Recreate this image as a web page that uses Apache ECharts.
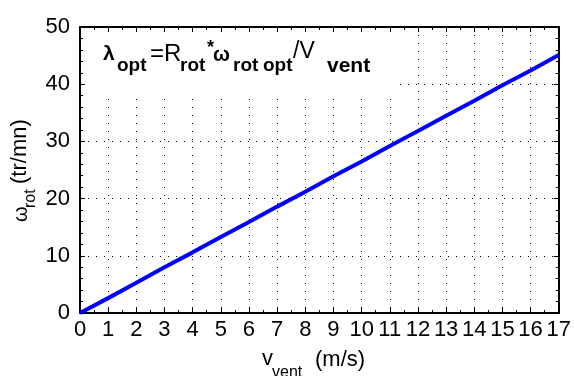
<!DOCTYPE html>
<html>
<head>
<meta charset="utf-8">
<script src="https://cdn.jsdelivr.net/npm/echarts@6/dist/echarts.min.js"></script>
<style>
html,body{margin:0;padding:0;background:#fff;}
#c{width:574px;height:376px;}
</style>
</head>
<body>
<div id="c"></div>
<script>
// Data
const vVent = [0, 1, 2, 3, 4, 5, 6, 7, 8, 9, 10, 11, 12, 13, 14, 15, 16, 17];
const omegaRot = [0, 2.6, 5.3, 8.0, 10.6, 13.3, 15.9, 18.6, 21.2, 23.9, 26.5, 29.2, 31.8, 34.5, 37.1, 39.8, 42.4, 45.1];
const xRange = [0, 17];
const yRange = [0, 50];
const xStep = 1;
const yStep = 10;

const FONT = '"Liberation Sans", Arial, sans-serif';
const chart = echarts.init(document.getElementById('c'), null, {renderer: 'canvas'});

const dotted = {color: '#000', width: 1, type: [1, 7]};
const axisLine = {show: true, onZero: false, lineStyle: {color: '#000', width: 2}};

function txt(text, x, y, size, weight, align) {
  return {
    type: 'text', x: x, y: y, z: 10,
    style: {
      text: text, fill: '#000',
      font: (weight || 'normal') + ' ' + size + 'px ' + FONT,
      textAlign: align || 'left', textVerticalAlign: 'middle'
    }
  };
}

chart.setOption({
  animation: false,
  backgroundColor: '#fff',
  grid: {left: 80, right: 13, top: 27, bottom: 63, containLabel: false},
  xAxis: [{
    type: 'value', min: xRange[0], max: xRange[1], interval: xStep,
    axisLine: axisLine,
    axisTick: {show: true, inside: true, length: 5, lineStyle: {color: '#000', width: 1}},
    minorTick: {show: true, splitNumber: 2, length: 3, lineStyle: {color: '#000', width: 1}},
    axisLabel: {show: true, interval: 0, color: '#000', fontSize: 22, fontFamily: FONT, margin: 6},
    splitLine: {show: true, lineStyle: dotted}
  }, {
    type: 'value', position: 'top', min: xRange[0], max: xRange[1], interval: xStep,
    axisLine: axisLine,
    axisTick: {show: true, inside: true, length: 5, lineStyle: {color: '#000', width: 1}},
    minorTick: {show: true, splitNumber: 2, length: 3, lineStyle: {color: '#000', width: 1}},
    axisLabel: {show: false},
    splitLine: {show: false}
  }],
  yAxis: [{
    type: 'value', min: yRange[0], max: yRange[1], interval: yStep,
    axisLine: axisLine,
    axisTick: {show: true, inside: true, length: 5, lineStyle: {color: '#000', width: 1}},
    minorTick: {show: true, splitNumber: 5, length: 3, lineStyle: {color: '#000', width: 1}},
    axisLabel: {show: true, color: '#000', fontSize: 22, fontFamily: FONT, margin: 10},
    splitLine: {show: true, lineStyle: dotted}
  }, {
    type: 'value', position: 'right', min: yRange[0], max: yRange[1], interval: yStep,
    axisLine: axisLine,
    axisTick: {show: true, inside: true, length: 5, lineStyle: {color: '#000', width: 1}},
    minorTick: {show: true, splitNumber: 5, length: 3, lineStyle: {color: '#000', width: 1}},
    axisLabel: {show: false},
    splitLine: {show: false}
  }],
  series: [{
    type: 'line',
    xAxisIndex: 0, yAxisIndex: 0,
    data: vVent.map((v, i) => [v, omegaRot[i]]),
    showSymbol: false,
    lineStyle: {color: '#0000ff', width: 4},
    z: 5
  }],
  graphic: [
    {type: 'rect', z: 1, shape: {x: 87, y: 33, width: 311, height: 59}, style: {fill: '#fff'}},
    // title
    txt('λ', 103, 54, 21, 'bold'),
    txt('opt', 117, 66, 19, 'bold'),
    txt('=R', 150, 54, 24, 'normal'),
    txt('rot', 180, 66, 19, 'bold'),
    txt('*', 207, 48, 18, 'bold'),
    txt('ω', 213, 55, 20, 'bold'),
    txt('rot', 233, 66, 19, 'bold'),
    txt('opt', 263, 66, 19, 'bold'),
    txt('/V', 293, 52, 23, 'normal'),
    txt('vent', 327, 66, 21, 'bold'),
    // x axis name
    txt('v', 262, 359, 22, 'normal'),
    txt('vent', 272, 373, 16, 'normal'),
    txt('(m/s)', 315, 360, 22, 'normal'),
    // y axis name
    {
      type: 'group', x: 21, y: 222, rotation: Math.PI / 2,
      children: [
        txt('ω', 0, 0, 20, 'normal'),
        txt('rot', 14, 10, 16, 'normal'),
        txt('(tr/mn)', 38, -1, 22, 'normal')
      ]
    }
  ]
});
</script>
</body>
</html>
